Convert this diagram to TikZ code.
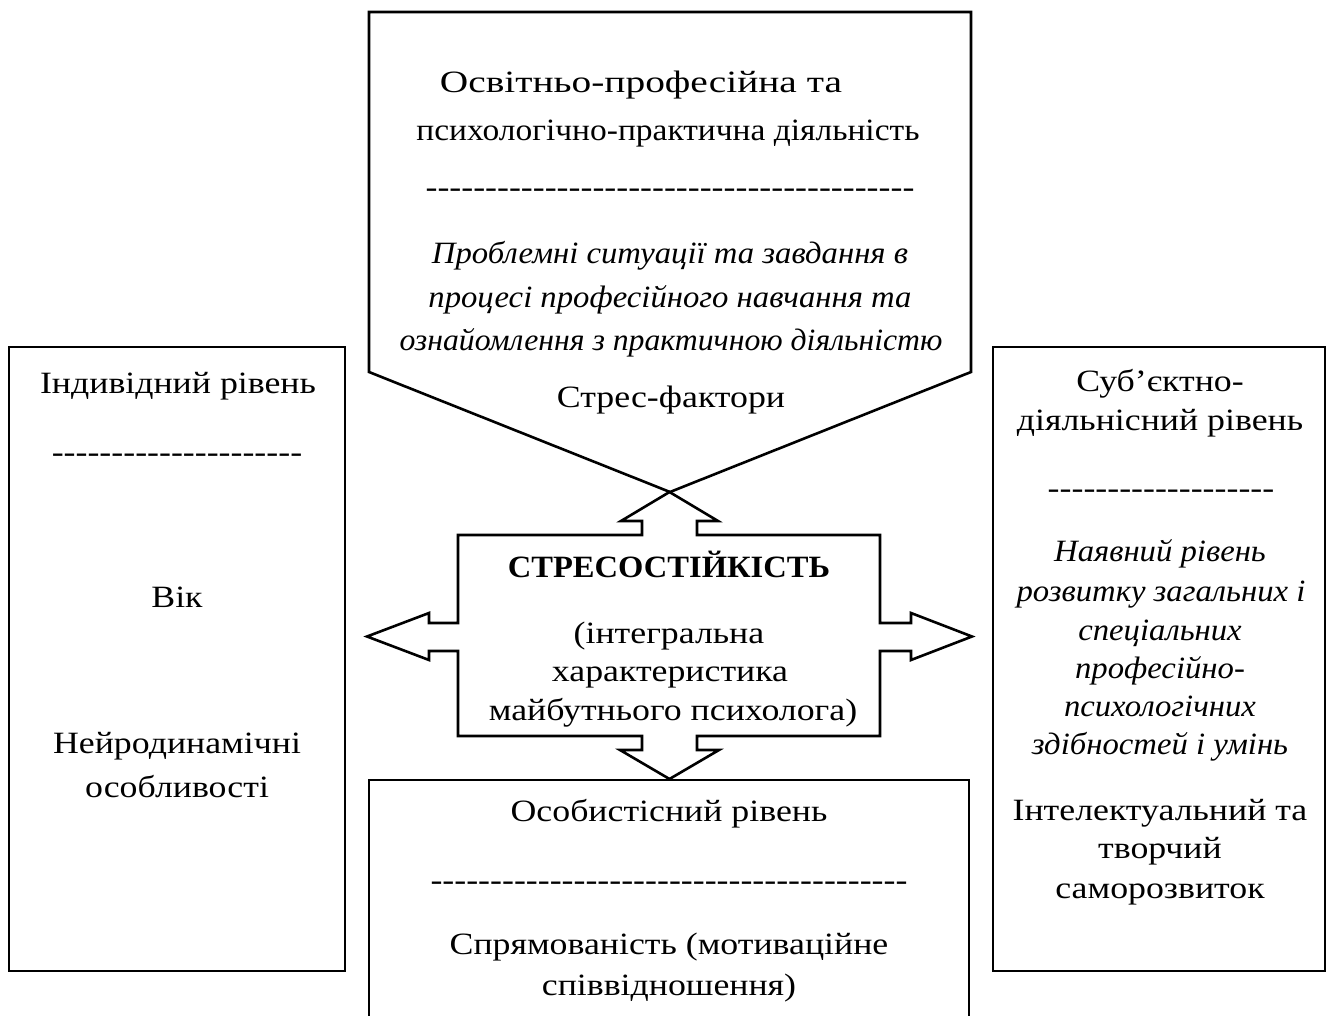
\documentclass[tikz,border=0pt]{standalone}
\usepackage{fontspec}
\usepackage{graphicx}
\setmainfont{Liberation Serif}[FakeStretch=1.155]
\newfontfamily\itfam{Liberation Serif}[FakeStretch=1.055]
\newfontfamily\bffam{Liberation Serif}[FakeStretch=1.05]
\newcommand\hyphenrow[1]{\foreach \k in {1,...,#1}{-}}
\begin{document}
\begin{tikzpicture}[x=1pt,y=-1pt,
  frame/.style={line width=2.6pt, line join=miter},
  txt/.style={font=\fontsize{31}{38}\selectfont, inner sep=0pt, anchor=mid},
  itxt/.style={txt, font=\fontsize{31}{38}\selectfont\itfam\itshape},
  btxt/.style={txt, font=\fontsize{31}{38}\selectfont\bffam\bfseries}]
\useasboundingbox (0,0) rectangle (1327,1016);
% top pentagon
\draw[frame] (369,12) -- (971,12) -- (971,372) -- (670,492) -- (369,372) -- cycle;
% left and right boxes
\draw[frame] (9,347) rectangle (345,971);
\draw[frame] (993,347) rectangle (1325,971);
% bottom box (runs off the page)
\draw[frame] (369,1030) -- (369,780) -- (969,780) -- (969,1030);
% central cross-arrow
\draw[frame] (458,535) -- (642,535) -- (642,521) -- (621,521) -- (669.5,492) -- (718,521) -- (697,521) -- (697,535)
  -- (880,535) -- (880,623) -- (911,623) -- (911,613) -- (972,636.5) -- (911,660) -- (911,651) -- (880,651)
  -- (880,736) -- (697,736) -- (697,750) -- (719,750) -- (669.5,779) -- (620,750) -- (642,750) -- (642,736)
  -- (458,736) -- (458,651) -- (429,651) -- (429,660) -- (367,636.5) -- (429,613) -- (429,623) -- (458,623) -- cycle;
% top texts
\node[txt] (t1) at (641,90) {\scalebox{1.1}[1]{Освітньо-професійна та}};
\node[txt] (t2) at (668,138) {\scalebox{0.935}[1]{психологічно-практична діяльність}};
\node[txt] (t3) at (670,195) {\hyphenrow{41}};
\node[itxt] (t4) at (670,261) {Проблемні ситуації та завдання в};
\node[itxt] (t5) at (670,305) {процесі професійного навчання та};
\node[itxt] (t6) at (671,348) {\scalebox{0.97}[1]{ознайомлення з практичною діяльністю}};
\node[txt] (t7) at (671,405) {Стрес-фактори};
% left texts
\node[txt] (l1) at (178,391) {Індивідний рівень};
\node[txt] (l2) at (177,460) {\hyphenrow{21}};
\node[txt] (l3) at (177,605) {Вік};
\node[txt] (l4) at (177,751) {Нейродинамічні};
\node[txt] (l5) at (177,795) {особливості};
% right texts
\node[txt] (r1) at (1160,389) {Суб’єктно-};
\node[txt] (r2) at (1160,428) {діяльнісний рівень};
\node[txt] (r3) at (1161,496) {\hyphenrow{19}};
\node[itxt] (r4) at (1160,559) {Наявний рівень};
\node[itxt] (r5) at (1161,599) {розвитку загальних і};
\node[itxt] (r6) at (1160,638) {спеціальних};
\node[itxt] (r7) at (1160,676) {професійно-};
\node[itxt] (r8) at (1160,714) {психологічних};
\node[itxt] (r9) at (1160,752) {здібностей і умінь};
\node[txt] (r10) at (1160,818) {Інтелектуальний та};
\node[txt] (r11) at (1160,856) {творчий};
\node[txt] (r12) at (1160,896) {саморозвиток};
% centre texts
\node[btxt] (c1) at (669,575) {СТРЕСОСТІЙКІСТЬ};
\node[txt] (c2) at (669,641) {(інтегральна};
\node[txt] (c3) at (670,679) {характеристика};
\node[txt] (c4) at (673,718) {майбутнього психолога)};
% bottom texts
\node[txt] (b1) at (669,819) {Особистісний рівень};
\node[txt] (b2) at (669,888) {\hyphenrow{40}};
\node[txt] (b3) at (669,952) {Спрямованість (мотиваційне};
\node[txt] (b4) at (669,993) {співвідношення)};
\end{tikzpicture}
\end{document}
